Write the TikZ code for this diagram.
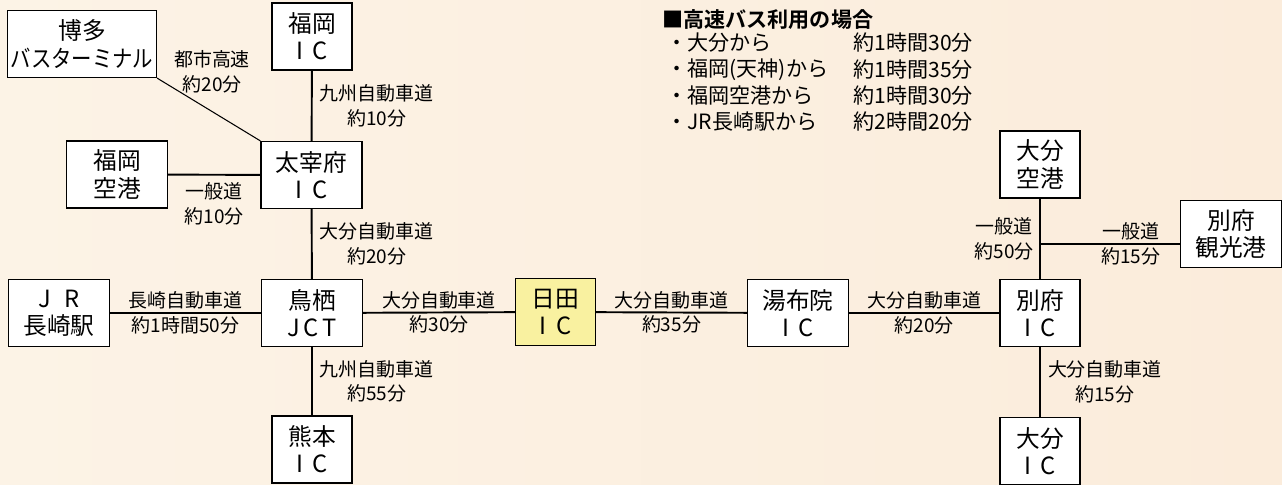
\documentclass[tikz,border=0pt]{standalone}
\usepackage{graphicx}
\usepackage{fontspec}
\setmainfont{Noto Sans CJK JP}[BoldFont={Noto Sans CJK JP Bold}]
\usetikzlibrary{positioning}

\definecolor{hitayellow}{RGB}{249,241,160}
\definecolor{bgcream}{RGB}{252,243,230}
\definecolor{bglight}{RGB}{254,250,247}
\definecolor{bgpeach}{RGB}{251,236,219}

\newcommand{\ic}{I\hspace{0.4em}C}

\tikzset{
  place/.style={draw, fill=white, line width=0.7pt, align=center, minimum height=1.34cm, inner sep=1pt, font=\fontsize{13.5}{15.5}\selectfont},
  narrow/.style={place, minimum width=1.6cm},
  wide/.style={place, minimum width=2.02cm},
  road/.style={line width=1.1pt},
  time/.style={align=center, inner sep=2pt, font=\fontsize{10.8}{14}\selectfont},
  legtext/.style={anchor=west, inner sep=0pt, font=\fontsize{12}{14}\selectfont},
}

\begin{document}
\begin{tikzpicture}[x=0.02cm,y=-0.02cm]
\shade[left color=bgcream, middle color=bglight, right color=bgpeach] (0,0) rectangle (1282,484);
\useasboundingbox (0,0) rectangle (1282,484);

% places
\node[place, minimum width=2.98cm] (hakata) at (82,44) {博多\\\scalebox{0.86}[1]{バスターミナル}};
\node[narrow] (fukuokaic) at (312,36.5) {福岡\\\ic};
\node[wide] (dazaifu) at (311.5,175) {太宰府\\\ic};
\node[wide] (fukuokakuko) at (117,174.5) {福岡\\空港};
\node[wide] (jr) at (59,313) {J\hspace{0.6em}R\\長崎駅};
\node[wide] (tosu) at (312,313) {鳥栖\\J\hspace{0.15em}C\hspace{0.15em}T};
\node[narrow, fill=hitayellow] (hita) at (555.5,312) {日田\\\ic};
\node[wide] (yufuin) at (798,313) {湯布院\\\ic};
\node[narrow] (beppuic) at (1040,313) {別府\\\ic};
\node[narrow] (oitakuko) at (1040,164.5) {大分\\空港};
\node[wide] (kankoko) at (1231,234) {別府\\観光港};
\node[narrow] (oitaic) at (1040,451) {大分\\\ic};
\node[narrow] (kumamoto) at (312,449.5) {熊本\\\ic};

% roads
\draw[line width=0.6pt] (hakata.south east) -- (dazaifu.north west);
\node[time] (toshi) at (212,72) {都市高速\\約20分};
\draw[road] (fukuokaic) -- node[time, right=2pt] {九州自動車道\\約10分} (dazaifu);
\draw[road] (fukuokakuko) -- node[time, below=2pt] {一般道\\約10分} (dazaifu);
\draw[road] (dazaifu) -- node[time, right=2pt] {大分自動車道\\約20分} (tosu);
\draw[road] (jr) -- node[time] {長崎自動車道\\約1時間50分} (tosu);
\draw[road] (tosu) -- node[time] {大分自動車道\\約30分} (hita);
\draw[road] (hita) -- node[time] {大分自動車道\\約35分} (yufuin);
\draw[road] (yufuin) -- node[time] {大分自動車道\\約20分} (beppuic);
\draw[road] (tosu) -- node[time, right=2pt] {九州自動車道\\約55分} (kumamoto);
\draw[road] (oitakuko) -- node[time, left=1pt] {一般道\\約50分} (beppuic);
\coordinate (bend) at (1040,244);
\draw[road] (bend) -- node[time, pos=0.65] {一般道\\約15分} (kankoko.west |- bend);
\draw[road] (beppuic) -- node[time, right=2pt] {大分自動車道\\約15分} (oitaic);

% bus legend
\node[legtext, font=\bfseries\fontsize{12}{14}\selectfont] (bushead) at (662,20) {■高速バス利用の場合};
\foreach \k/\from/\dur in {1/大分から/約1時間30分, 2/福岡(天神)から/約1時間35分, 3/福岡空港から/約1時間30分, 4/JR長崎駅から/約2時間20分}{
  \node[legtext] (from\k) at (666,{43+26.3*(\k-1)}) {・\from};
  \node[legtext] (dur\k) at (853,{43+26.3*(\k-1)}) {\dur};
}
\end{tikzpicture}
\end{document}
